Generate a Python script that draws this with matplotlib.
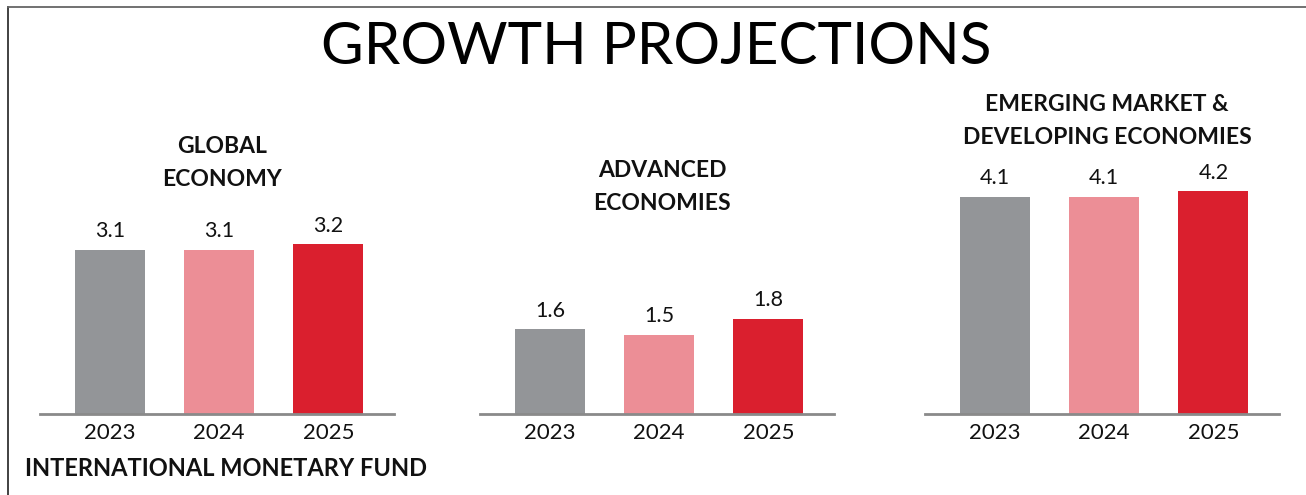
import matplotlib
matplotlib.use("Agg")
import matplotlib.pyplot as plt
from matplotlib.lines import Line2D

plt.rcParams['font.family'] = ['Lato', 'DejaVu Sans']

# data
years = ['2023', '2024', '2025']
global_economy = [3.1, 3.1, 3.2]
advanced = [1.6, 1.5, 1.8]
emerging = [4.1, 4.1, 4.2]
panel_titles = ['GLOBAL\nECONOMY', 'ADVANCED\nECONOMIES',
                'EMERGING MARKET &\nDEVELOPING ECONOMIES']
bar_colors = ['#939598', '#EC8E96', '#DA1F2E']

W, H = 1306, 495
fig = plt.figure(figsize=(W / 100, H / 100), dpi=100)
fig.patch.set_facecolor('white')

# panel placement in pixels: left edge, title y (from top of image)
lefts = [40, 480, 925]
title_y = [163, 187, 121]
base_y = 414
ax_h = 265

for vals, left, ttl, ty in zip([global_economy, advanced, emerging],
                               lefts, panel_titles, title_y):
    ax = fig.add_axes([left / W, (H - base_y) / H, 354 / W, ax_h / H])
    x = range(len(years))
    ax.bar(x, vals, width=0.64, color=bar_colors)
    ax.set_xlim(-0.64, 2.6)
    ax.set_ylim(0, 5)
    for s in ['top', 'right', 'left']:
        ax.spines[s].set_visible(False)
    ax.spines['bottom'].set_color('#8a8a8a')
    ax.spines['bottom'].set_linewidth(2)
    ax.set_yticks([])
    ax.set_xticks(list(x))
    ax.set_xticklabels(years, fontsize=16, color='#111111')
    ax.tick_params(axis='x', length=0, pad=6.5)
    for xi, v in zip(x, vals):
        ax.annotate(f'{v:.1f}', xy=(xi, v), xytext=(0, 6),
                    textcoords='offset points', ha='center', va='bottom',
                    fontsize=15.5, color='#111111')
    fig.text((left + 182) / W, 1 - ty / H, ttl, ha='center', va='center',
             fontsize=16.5, fontweight='bold', color='#111111',
             linespacing=1.65)

fig.text(656 / W, 1 - 47 / H, 'GROWTH PROJECTIONS', ha='center', va='center',
         fontsize=42, color='black')
fig.text(25 / W, 1 - 469 / H, 'INTERNATIONAL MONETARY FUND', ha='left',
         va='center', fontsize=17, fontweight='bold', color='#111111')

# frame lines on top and left
fig.add_artist(Line2D([8 / W, 8 / W], [0, 1 - 7 / H], color='#333333', lw=1.3))
fig.add_artist(Line2D([8 / W, 1], [1 - 7 / H, 1 - 7 / H], color='#666666', lw=1.3))

fig.savefig('out.png', dpi=100, facecolor='white')
